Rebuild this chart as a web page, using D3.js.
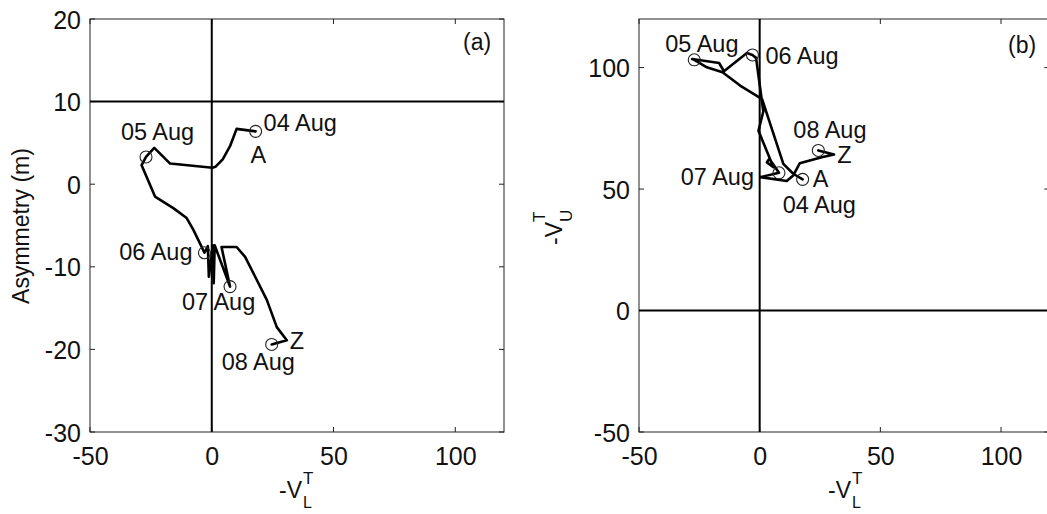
<!DOCTYPE html>
<html><head><meta charset="utf-8">
<script src="https://cdn.jsdelivr.net/npm/d3@7/dist/d3.min.js"></script>
<style>
html,body{margin:0;padding:0;background:#fff;}
svg{display:block;}
text{font-family:"Liberation Sans",Arial,sans-serif;fill:#111;}
</style></head>
<body>
<svg id="chart" width="1047" height="514"></svg>
<script>
// ---------- data ----------
const xTicks = [-50, 0, 50, 100];
const aYTicks = [-30, -20, -10, 0, 10, 20];
const bYTicks = [-50, 0, 50, 100];

// panel (a): -V_L^T vs Asymmetry (m)
const aX = [18, 10.2, 7.5, 4.5, 1.5, 0.3, -17.1, -23.6, -27, -28.8, -23.3, -15.8, -10.3, -7.6, -4.8, -3,
            -1.6, -1.2, 0.5, 0.8, 1.2, 7.5, 4, 10.2, 13.7, 18.5, 22.6, 26.7, 30.8, 24.6];
const aY = [6.4, 6.7, 4.6, 3.0, 2.1, 2.0, 2.5, 4.4, 3.3, 2.3, -1.5, -2.9, -4.1, -5.5, -7.2, -8.3,
            -7.5, -11.2, -7.4, -12.0, -7.4, -12.4, -7.6, -7.6, -8.8, -11.6, -14.0, -17.3, -18.9, -19.4];

// panel (b): -V_L^T vs -V_U^T
const bX = [17.8, 13.9, 9.8, 1, -8.1, -15.4, -21.9, -27.1, -28, -16.8, -14.8, -5.3, -3, -1.5,
            1.5, -0.5, 5.7, 3, 4, 5, 8, 0.2, 11.2, 13.9, 16.6, 25.7, 30.8, 24.3];
const bY = [54.0, 56.3, 60.4, 87, 92.6, 98.1, 100.1, 103.2, 103.5, 101.9, 98.5, 106, 105.2, 104,
            82, 74, 59, 61, 62.5, 61, 56.7, 54.9, 53.3, 55.6, 60.6, 63.1, 64.2, 65.9];

// marked days
const dayLabels = ["04 Aug", "05 Aug", "06 Aug", "07 Aug", "08 Aug"];
const aDayX = [18, -27, -3, 7.5, 24.6];
const aDayY = [6.4, 3.3, -8.3, -12.4, -19.4];
const bDayX = [17.8, -27.1, -3, 8, 24.3];
const bDayY = [54.0, 103.2, 105.2, 56.7, 65.9];
const startEnd = ["A", "Z"];

// ---------- layout ----------
const svg = d3.select("#chart");
const TICK_FONT = 25, ANN_FONT = 23.5;
const FF = '"Liberation Sans",Arial,sans-serif';

function panel(o) {
  const g = svg.append("g");
  const x = d3.scaleLinear().domain([-50, 120]).range([o.left, o.right]);
  const y = d3.scaleLinear().domain(o.yDomain).range([o.bottom, o.top]);

  // box
  g.append("rect").attr("x", o.left).attr("y", o.top)
    .attr("width", o.right - o.left).attr("height", o.bottom - o.top)
    .attr("fill", "none").attr("stroke", "#222").attr("stroke-width", 1);

  // ticks (inward, all four sides)
  const tl = 5;
  xTicks.forEach(v => {
    g.append("line").attr("x1", x(v)).attr("x2", x(v)).attr("y1", o.bottom).attr("y2", o.bottom - tl).attr("stroke", "#222");
    g.append("line").attr("x1", x(v)).attr("x2", x(v)).attr("y1", o.top).attr("y2", o.top + tl).attr("stroke", "#222");
  });
  o.yTicks.forEach(v => {
    g.append("line").attr("y1", y(v)).attr("y2", y(v)).attr("x1", o.left).attr("x2", o.left + tl).attr("stroke", "#222");
    g.append("line").attr("y1", y(v)).attr("y2", y(v)).attr("x1", o.right).attr("x2", o.right - tl).attr("stroke", "#222");
  });
  // tick labels via axis generators (plain hyphen minus like the original)
  const fmt = d => String(d);
  const gx = g.append("g").attr("transform", `translate(0,${o.bottom + 33})`)
    .call(d3.axisBottom(x).tickValues(xTicks).tickSize(0).tickPadding(0).tickFormat(fmt));
  gx.select(".domain").remove();
  gx.selectAll("text").attr("dy", 0).attr("y", 0).style("font-size", TICK_FONT + "px")
    .style("font-family", FF).attr("fill", "#111");
  const gy = g.append("g").attr("transform", `translate(${o.left - 9},0)`)
    .call(d3.axisLeft(y).tickValues(o.yTicks).tickSize(0).tickPadding(0).tickFormat(fmt));
  gy.select(".domain").remove();
  gy.selectAll("text").attr("x", 0).attr("dy", "0.36em").style("font-size", TICK_FONT + "px")
    .style("font-family", FF).attr("fill", "#111");

  // reference lines
  g.append("line").attr("x1", x(0)).attr("x2", x(0)).attr("y1", o.top).attr("y2", o.bottom)
    .attr("stroke", "#000").attr("stroke-width", 2);
  g.append("line").attr("x1", o.left).attr("x2", o.right).attr("y1", y(o.hRef)).attr("y2", y(o.hRef))
    .attr("stroke", "#000").attr("stroke-width", 2);

  // trajectory
  const pts = o.px.map((d, i) => [d, o.py[i]]);
  g.append("path").datum(pts)
    .attr("d", d3.line().x(d => x(d[0])).y(d => y(d[1])))
    .attr("fill", "none").attr("stroke", "#000").attr("stroke-width", 2.6)
    .attr("stroke-linejoin", "round").attr("stroke-linecap", "round");

  // day markers
  o.dx.forEach((d, i) => {
    g.append("circle").attr("cx", x(d)).attr("cy", y(o.dy[i])).attr("r", 6)
      .attr("fill", "none").attr("stroke", "#222").attr("stroke-width", 1.1);
    const off = o.labOff[i];
    g.append("text").attr("x", x(d) + off[0]).attr("y", y(o.dy[i]) + off[1])
      .attr("text-anchor", off[2] || "start").style("font-size", ANN_FONT + "px").text(dayLabels[i]);
  });
  // A / Z
  [[0, o.aOff], [4, o.zOff]].forEach(([i, off], k) => {
    g.append("text").attr("x", x(o.dx[i]) + off[0]).attr("y", y(o.dy[i]) + off[1])
      .style("font-size", ANN_FONT + "px").text(startEnd[k]);
  });

  // panel tag
  g.append("text").attr("x", o.tag[0]).attr("y", o.tag[1]).style("font-size", "23px").text(o.tagText);

  // x label -V_L^T
  g.append("text").attr("x", o.xLabX).attr("y", 498).attr("text-anchor", "end")
    .style("font-size", "23px").text("-V");
  g.append("text").attr("x", o.xLabX + 1).attr("y", 484).style("font-size", "17px").text("T");
  g.append("text").attr("x", o.xLabX + 1).attr("y", 508).style("font-size", "16px").text("L");

  return {x, y};
}

panel({
  left: 90, right: 504, top: 19, bottom: 432,
  yDomain: [-30, 20], yTicks: aYTicks, hRef: 10,
  px: aX, py: aY, dx: aDayX, dy: aDayY,
  labOff: [[8, 0], [-25, -17], [-12, 7, "end"], [-48, 23], [-50, 26]],
  aOff: [-5, 32], zOff: [18, 5],
  tag: [463, 50], tagText: "(a)", xLabX: 302
});

panel({
  left: 639, right: 1049.3, top: 19, bottom: 432,
  yDomain: [-50, 120], yTicks: bYTicks, hRef: 0,
  px: bX, py: bY, dx: bDayX, dy: bDayY,
  labOff: [[-20, 34], [-29, -8], [13, 9], [-25, 12, "end"], [-25, -12]],
  aOff: [10, 8], zOff: [19, 13],
  tag: [1008, 53], tagText: "(b)", xLabX: 851
});

// y labels
svg.append("text").attr("transform", "translate(29,226) rotate(-90)").attr("text-anchor", "middle")
  .style("font-size", "23px").text("Asymmetry (m)");
svg.append("text").attr("transform", "translate(562,245) rotate(-90)").attr("text-anchor", "start")
  .style("font-size", "23px").text("-V");
svg.append("text").attr("transform", "translate(545,222) rotate(-90)").attr("text-anchor", "start")
  .style("font-size", "17px").text("T");
svg.append("text").attr("transform", "translate(572,222) rotate(-90)").attr("text-anchor", "start")
  .style("font-size", "17px").text("U");
</script>
</body></html>
